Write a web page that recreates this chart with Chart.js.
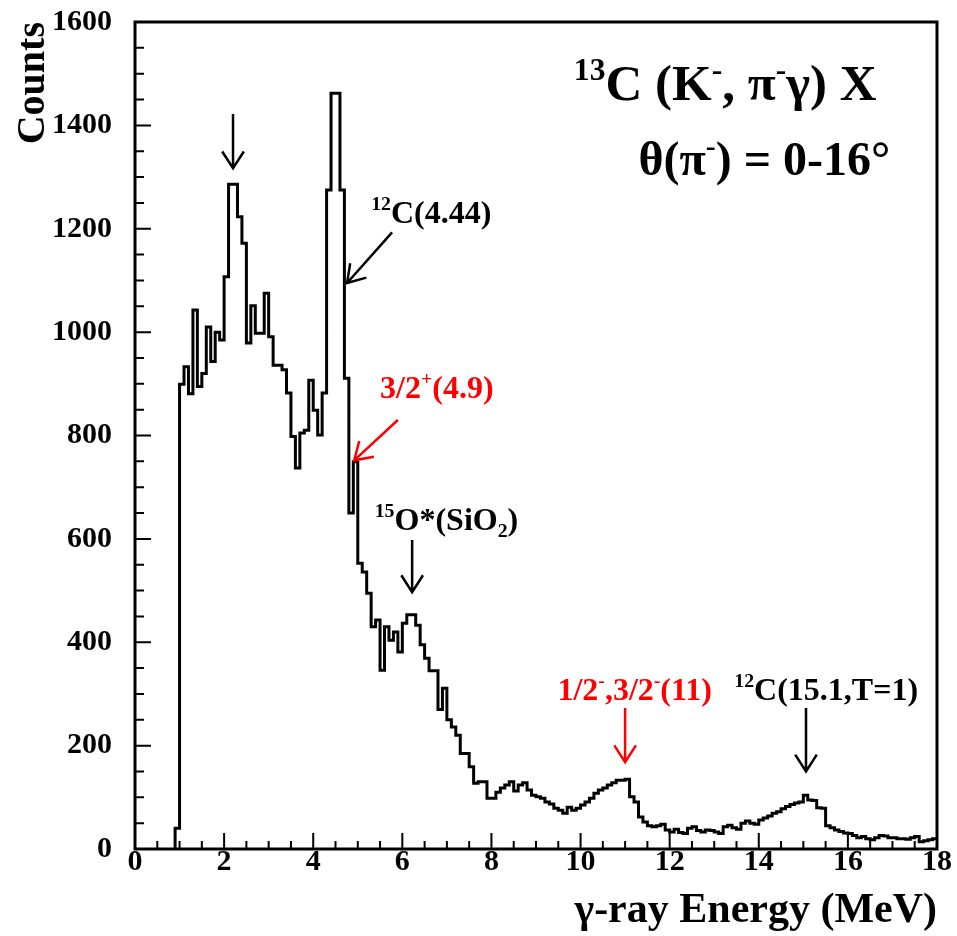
<!DOCTYPE html>
<html>
<head>
<meta charset="utf-8">
<script src="https://cdn.jsdelivr.net/npm/chart.js@4.4.0/dist/chart.umd.min.js"></script>
<style>
  html, body { margin: 0; padding: 0; background: #fff; }
</style>
</head>
<body>
<canvas id="chart" width="957" height="936"></canvas>
<script>
// histogram: 0.1 MeV bins, first bin starts at 0.9 MeV
const binStart = 0.9;
const binWidth = 0.1;
const xMax = 18;
const counts = [
  40, 899, 933, 881, 1043, 895, 920, 1010, 943, 1000, 985,          // 0.9 - 1.9
  1107, 1286, 1286, 1223, 1172, 979, 1051, 998, 998, 1075,          // 2.0 - 2.9
  991, 936, 936, 927, 882, 798, 737, 805, 810, 907,                 // 3.0 - 3.9
  849, 801, 882, 1275, 1462, 1462, 1275, 911, 650, 749,             // 4.0 - 4.9
  553, 536, 495, 430, 443, 346, 430, 404, 420, 381,                 // 5.0 - 5.9
  437, 453, 453, 433, 395, 369, 345, 345, 270, 311,                 // 6.0 - 6.9
  250, 236, 220, 185, 185, 159, 127, 130, 130, 98,                  // 7.0 - 7.9
  98, 110, 118, 124, 130, 112, 124, 128, 114, 104,                  // 8.0 - 8.9
  101, 98, 91, 87, 79, 75, 69, 81, 75, 79,                          // 9.0 - 9.9
  85, 91, 98, 108, 114, 118, 124, 128, 133, 133,                    // 10.0 - 10.9
  135, 101, 91, 62, 52, 45, 43, 45, 48, 37,                         // 11.0 - 11.9
  33, 38, 32, 30, 40, 43, 36, 33, 37, 36,                           // 12.0 - 12.9
  33, 30, 43, 46, 41, 38, 50, 54, 50, 48,                           // 13.0 - 13.9
  56, 60, 64, 69, 72, 78, 82, 86, 89, 91,                           // 14.0 - 14.9
  104, 95, 94, 80, 79, 45, 41, 37, 34, 31,                          // 15.0 - 15.9
  30, 26, 22, 24, 20, 18, 22, 26, 25, 22,                           // 16.0 - 16.9
  22, 20, 20, 19, 22, 24, 14, 16, 18, 20                            // 17.0 - 17.9
];
const xTickStep = 2;
const yTickStep = 200;
const yMax = 1600;

const title1 = [{ t: "13", sup: true }, { t: "C (K" }, { t: "-", sup: true }, { t: ", π" }, { t: "-", sup: true }, { t: "γ) X" }];
const title2 = [{ t: "θ(π" }, { t: "-", sup: true }, { t: ") = 0-16°" }];

// annotations (positions in data units)
const notes = [
  { parts: [{ t: "12", sup: true }, { t: "C(4.44)" }], x: 5.3, y: 1212, color: "#000",
    arrow: [5.77, 1193, 4.76, 1095] },
  { parts: [{ t: "3/2" }, { t: "+", sup: true }, { t: "(4.9)" }], x: 5.5, y: 872, color: "#ff0000",
    arrow: [5.9, 830, 4.92, 752] },
  { parts: [{ t: "15", sup: true }, { t: "O*(SiO" }, { t: "2", sub: true }, { t: ")" }], x: 5.38, y: 617, color: "#000",
    arrow: [6.22, 598, 6.22, 497] },
  { parts: [{ t: "1/2" }, { t: "-", sup: true }, { t: ",3/2" }, { t: "-", sup: true }, { t: "(11)" }], x: 9.48, y: 288, color: "#ff0000",
    arrow: [11.0, 273, 11.0, 168] },
  { parts: [{ t: "12", sup: true }, { t: "C(15.1,T=1)" }], x: 13.45, y: 288, color: "#000",
    arrow: [15.06, 273, 15.06, 150] },
  { parts: [], x: 0, y: 0, color: "#000", arrow: [2.2, 1422, 2.2, 1317] }
];

const FONT = '"Liberation Serif", "Times New Roman", serif';

// bin left edges; each value is held until the next edge
const points = [{ x: binStart, y: 0 }];
counts.forEach((c, i) => points.push({ x: +(binStart + i * binWidth).toFixed(2), y: c }));
points.push({ x: xMax, y: counts[counts.length - 1] });

function drawRich(ctx, parts, x, y, size, color) {
  let cx = x;
  ctx.fillStyle = color;
  ctx.textBaseline = "alphabetic";
  ctx.textAlign = "left";
  parts.forEach((p) => {
    const s = p.sup || p.sub ? size * 0.62 : size;
    ctx.font = `bold ${s}px ${FONT}`;
    const dy = p.sup ? -size * 0.4 : p.sub ? size * 0.22 : 0;
    ctx.fillText(p.t, cx, y + dy);
    cx += ctx.measureText(p.t).width;
  });
}

function drawArrow(ctx, x1, y1, x2, y2, color) {
  const a = Math.atan2(y2 - y1, x2 - x1);
  const h = 20, w = Math.PI / 5.5;
  ctx.strokeStyle = color;
  ctx.lineWidth = 2.5;
  ctx.beginPath();
  ctx.moveTo(x1, y1);
  ctx.lineTo(x2, y2);
  ctx.moveTo(x2 - h * Math.cos(a - w), y2 - h * Math.sin(a - w));
  ctx.lineTo(x2, y2);
  ctx.lineTo(x2 - h * Math.cos(a + w), y2 - h * Math.sin(a + w));
  ctx.stroke();
}

const decor = {
  id: "decor",
  afterDatasetsDraw(chart) {
    const { ctx, chartArea: a, scales: { x, y } } = chart;
    ctx.save();
    // frame
    ctx.strokeStyle = "#000";
    ctx.lineWidth = 3;
    ctx.strokeRect(a.left, a.top, a.right - a.left, a.bottom - a.top);
    // inward ticks
    ctx.lineWidth = 2;
    ctx.beginPath();
    for (let v = 0; v <= xMax + 1e-9; v += 0.5) {
      const px = x.getPixelForValue(v);
      const len = Math.abs(v % xTickStep) < 1e-9 ? 16 : 8;
      ctx.moveTo(px, a.bottom);
      ctx.lineTo(px, a.bottom - len);
    }
    for (let v = 0; v <= yMax + 1e-9; v += 50) {
      const py = y.getPixelForValue(v);
      const len = v % yTickStep === 0 ? 16 : 9;
      ctx.moveTo(a.left, py);
      ctx.lineTo(a.left + len, py);
    }
    ctx.stroke();
    // titles
    drawRich(ctx, title1, x.getPixelForValue(9.85), y.getPixelForValue(1449), 51, "#000");
    drawRich(ctx, title2, x.getPixelForValue(11.3), y.getPixelForValue(1304), 48, "#000");
    // annotations
    notes.forEach((n) => {
      if (n.parts.length) drawRich(ctx, n.parts, x.getPixelForValue(n.x), y.getPixelForValue(n.y), 32, n.color);
      const [x1, y1, x2, y2] = n.arrow;
      drawArrow(ctx, x.getPixelForValue(x1), y.getPixelForValue(y1), x.getPixelForValue(x2), y.getPixelForValue(y2), n.color);
    });
    ctx.restore();
  }
};

const chart = new Chart(document.getElementById("chart"), {
  type: "line",
  data: {
    datasets: [{
      data: points,
      stepped: "before",
      borderColor: "#000",
      borderWidth: 3,
      pointRadius: 0,
      fill: false
    }]
  },
  options: {
    responsive: false,
    animation: false,
    devicePixelRatio: 1,
    layout: { padding: { top: 22, right: 20, left: 0, bottom: 0 } },
    plugins: { legend: { display: false }, tooltip: { enabled: false } },
    scales: {
      x: {
        type: "linear",
        min: 0,
        max: xMax,
        grid: { display: false, drawTicks: false },
        border: { display: false },
        ticks: { stepSize: xTickStep, color: "#000", padding: -5, maxRotation: 0,
                 callback: (v) => String(v),
                 font: { family: FONT, size: 30, weight: "bold" } },
        title: { display: true, text: "γ-ray Energy (MeV)", align: "end", color: "#000",
                 padding: 0, font: { family: FONT, size: 42, weight: "bold" } },
        afterFit: (s) => { s.height = 87; s.paddingLeft = 0; s.paddingRight = 0; }
      },
      y: {
        min: 0,
        max: yMax,
        grid: { display: false, drawTicks: false },
        border: { display: false },
        ticks: { stepSize: yTickStep, color: "#000", padding: 23,
                 callback: (v) => String(v),
                 font: { family: FONT, size: 30, weight: "bold" } },
        title: { display: true, text: "Counts", align: "end", color: "#000",
                 padding: { top: 10, bottom: 0 }, font: { family: FONT, size: 40, weight: "bold" } },
        afterFit: (s) => { s.width = 135; s.paddingTop = 0; s.paddingBottom = 0; }
      }
    }
  },
  plugins: [decor]
});
</script>
</body>
</html>
